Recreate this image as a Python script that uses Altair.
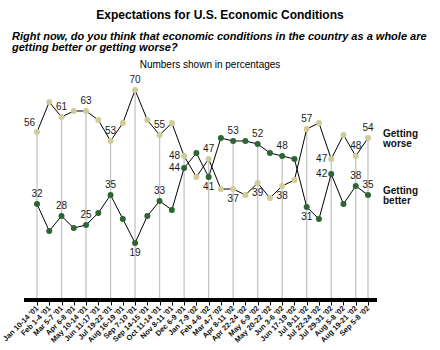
import altair as alt
import pandas as pd

# ---- data ----
dates = ["Jan 10-14 '01", "Feb 1-4 '01", "Mar 5-7 '01", "Apr 6-8 '01", "May 10-14 '01",
         "Jun 11-17 '01", "Jul 19-22 '01", "Aug 16-19 '01", "Sep 7-10 '01", "Sep 14-15 '01",
         "Oct 11-14 '01", "Nov 8-11 '01", "Dec 6-9 '01", "Jan 7-9 '02", "Feb 4-6 '02",
         "Mar 4-7 '02", "Apr 8-11 '02", "Apr 22-24 '02", "May 6-9 '02", "May 20-22 '02",
         "Jun 3-6 '02", "Jun 17-19 '02", "Jul 9-11 '02", "Jul 22-24 '02", "Jul 29-31 '02",
         "Aug 5-8 '02", "Aug 19-21 '02", "Sep 5-8 '02"]
worse = [56, 66, 61, 63, 63, 60, 53, 59, 70, 60, 55, 59, 48, 41, 47,
         37, 37, 35, 39, 34, 38, 40, 57, 59, 47, 55, 48, 54]
better = [32, 23, 28, 24, 25, 29, 35, 27, 19, 28, 33, 30, 44, 49, 41,
          54, 53, 53, 52, 49, 48, 47, 31, 27, 42, 32, 38, 35]
labeled = [0, 2, 4, 6, 8, 10, 12, 14, 16, 18, 20, 22, 24, 26, 27]

# label placement (style): a=above, b=below, l=left, al=above-left
worse_place = {0: "al", 2: "a", 4: "a", 6: "a", 8: "a", 10: "a", 12: "l", 14: "a",
               16: "b", 18: "b", 20: "b", 22: "a", 24: "l", 26: "a", 27: "a"}
better_place = {0: "a", 2: "a", 4: "a", 6: "a", 8: "b", 10: "a", 12: "l", 14: "b",
                16: "a", 18: "a", 20: "a", 22: "b", 24: "l", 26: "a", 27: "a"}

KHAKI = "#cfcc98"
GREEN = "#2e6535"
FONT = "Liberation Sans"

rows = []
for i, d in enumerate(dates):
    rows.append({"date": d, "series": "worse", "value": worse[i], "idx": i,
                 "place": worse_place.get(i, "")})
    rows.append({"date": d, "series": "better", "value": better[i], "idx": i,
                 "place": better_place.get(i, "")})
df = pd.DataFrame(rows)

rules_df = pd.DataFrame({"date": [dates[i] for i in labeled],
                         "top": [max(worse[i], better[i]) for i in labeled]})

legend_df = pd.DataFrame({"date": [dates[-1], dates[-1]],
                          "value": [worse[-1], better[-1]],
                          "label": ["Getting\nworse", "Getting\nbetter"]})

H = 230
xscale = alt.Scale(type="point", range=[37, 368], padding=0)
yscale = alt.Scale(domain=[0, H / 3.0], range=[H, 0])

x_axis = alt.Axis(domain=False, grid=False, ticks=True, tickColor="black", tickSize=5,
                  tickWidth=1, labelAngle=-45, labelFontSize=7.5, labelFont=FONT,
                  labelFontWeight="bold", labelColor="#111",
                  labelAlign="right", labelBaseline="middle",
                  labelPadding=2, title=None, labelOverlap=False)

X = alt.X("date:N", sort=dates, scale=xscale, axis=x_axis)
Y = alt.Y("value:Q", scale=yscale, axis=None)

rules = alt.Chart(rules_df).mark_rule(color="#c4c4c4", strokeWidth=1.3).encode(
    x=X, y=alt.Y("top:Q", scale=yscale, axis=None), y2=alt.datum(0))

axis_line = alt.Chart(rules_df).mark_rule(color="black", strokeWidth=3).encode(
    x=alt.value(24), x2=alt.value(377), y=alt.value(H))

lines = alt.Chart(df).mark_line(color="black", strokeWidth=1).encode(
    x=X, y=Y, detail="series:N")

points = alt.Chart(df).mark_circle(size=36, opacity=1).encode(
    x=X, y=Y,
    color=alt.Color("series:N", scale=alt.Scale(domain=["worse", "better"],
                                                 range=[KHAKI, GREEN]), legend=None))

def lab(place, **kw):
    return alt.Chart(df).transform_filter(
        alt.datum.place == place
    ).mark_text(font=FONT, fontSize=10, color="#1a1a1a", **kw).encode(
        x=X, y=Y, text="value:Q")

labels = [
    lab("a", dy=-10, baseline="middle"),
    lab("b", dy=10, baseline="middle"),
    lab("l", dx=-4, align="right", baseline="middle"),
    lab("al", dx=-2, dy=-9, align="right", baseline="middle"),
]

legend = alt.Chart(legend_df).mark_text(
    font=FONT, fontSize=10, fontWeight="bold", color="#111", align="left",
    baseline="middle", dx=15, dy=-4, lineBreak="\n", lineHeight=10).encode(
    x=X, y=Y, text="label:N")

hdr = pd.DataFrame({"t": ["x"]})
title = alt.Chart(hdr).mark_text(
    text="Expectations for U.S. Economic Conditions", font=FONT, fontSize=12,
    fontWeight="bold", color="black", align="center", baseline="middle").encode(
    x=alt.value(220), y=alt.value(15 - 70))
sub1 = alt.Chart(hdr).mark_text(
    text="Right now, do you think that economic conditions in the country as a whole are",
    font=FONT, fontSize=11, fontWeight="bold", fontStyle="italic", color="black",
    align="left", baseline="middle").encode(x=alt.value(12), y=alt.value(37 - 70))
sub2 = alt.Chart(hdr).mark_text(
    text="getting better or getting worse?",
    font=FONT, fontSize=11, fontWeight="bold", fontStyle="italic", color="black",
    align="left", baseline="middle").encode(x=alt.value(12), y=alt.value(48 - 70))
note = alt.Chart(hdr).mark_text(
    text="Numbers shown in percentages", font=FONT, fontSize=10, color="black",
    align="center", baseline="middle").encode(x=alt.value(210), y=alt.value(65 - 70))

chart = alt.layer(
    rules, lines, points, *labels, legend, axis_line,
    title, sub1, sub2, note
).properties(
    width=440, height=H,
    autosize=alt.AutoSizeParams(type="none"),
    padding={"left": 0, "top": 70, "right": 0, "bottom": 50},
).configure_view(stroke=None)

chart.save("out.html", embed_options={"renderer": "svg", "actions": False})
